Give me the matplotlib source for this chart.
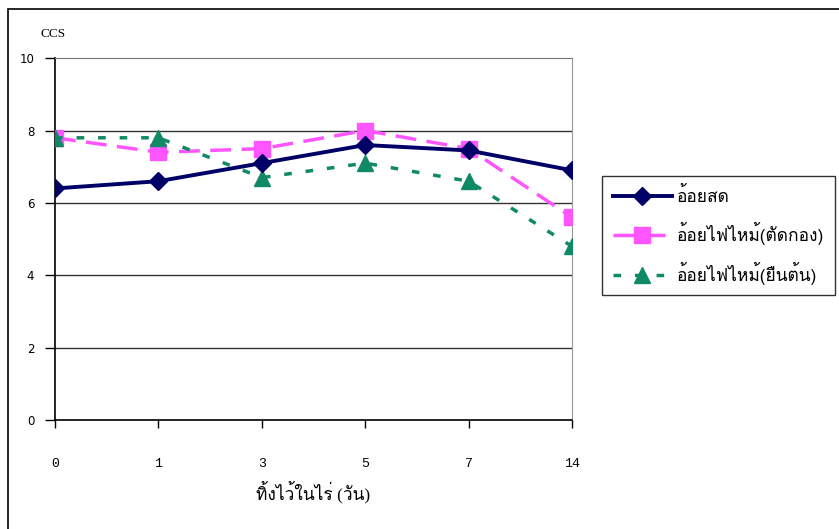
import matplotlib
matplotlib.use("Agg")
import matplotlib.pyplot as plt
from matplotlib import font_manager
from matplotlib.ft2font import FT2Font

days = ["0", "1", "3", "5", "7", "14"]
fresh = [6.4, 6.6, 7.1, 7.6, 7.45, 6.9]
burnt_cut = [7.8, 7.4, 7.5, 8.0, 7.5, 5.6]
burnt_standing = [7.8, 7.8, 6.7, 7.1, 6.6, 4.8]
labels = ["อ้อยสด", "อ้อยไฟไหม้(ตัดกอง)", "อ้อยไฟไหม้(ยืนต้น)"]
y_ticks = [0, 2, 4, 6, 8, 10]


def find_thai_font():
    # look for any installed font that has Thai glyphs
    for f in font_manager.fontManager.ttflist:
        try:
            cmap = FT2Font(f.fname).get_charmap()
        except Exception:
            continue
        if 0x0E2D in cmap and 0x0E49 in cmap:
            return f.name
    return "DejaVu Sans"


thai = find_thai_font()
plt.rcParams["font.family"] = [thai, "DejaVu Sans"]

fig = plt.figure(figsize=(8.39, 5.29), dpi=100)
ax = fig.add_axes([0.0656, 0.206, 0.6162, 0.684])

x = list(range(len(days)))
ax.plot(x, fresh, color="#000066", lw=2.8, marker="D", ms=9, label=labels[0], zorder=4)
ax.plot(x, burnt_cut, color="#FF55FF", lw=2.5, ls=(0, (6, 3)), marker="s", ms=11,
        label=labels[1], zorder=3)
ax.plot(x, burnt_standing, color="#108A66", lw=2.5, ls=(0, (2.2, 4)), marker="^", ms=11,
        label=labels[2], zorder=3)

ax.set_xlim(0, len(days) - 1)
ax.set_ylim(0, 10)
ax.set_xticks(x)
ax.set_xticklabels(days, family="Liberation Mono", fontsize=9.5)
ax.set_yticks(y_ticks)
ax.set_yticklabels([str(v) for v in y_ticks], family="DejaVu Sans", fontsize=8.5)
ax.tick_params(axis="x", direction="out", length=6, width=1, pad=21)
ax.tick_params(axis="y", direction="out", length=7, width=1, pad=8)

for v in y_ticks[1:-1]:
    ax.axhline(v, color="#333333", lw=1, zorder=1)
ax.spines["top"].set_color("#777777")
ax.spines["right"].set_color("#999999")
ax.spines["left"].set_color("black")
ax.spines["bottom"].set_color("black")
ax.spines["left"].set_linewidth(1.2)
ax.spines["bottom"].set_linewidth(1.2)

ax.set_xlabel("ทิ้งไว้ในไร่ (วัน)", fontsize=12.5, labelpad=8, family=["Liberation Serif", thai])
fig.text(0.048, 0.93, "CCS", fontsize=9.5, family="Liberation Serif")

leg = fig.legend(loc="upper left", bbox_to_anchor=(0.718, 0.667), frameon=True,
                 fancybox=False, fontsize=12.5, handlelength=3.4, borderpad=0.6,
                 labelspacing=0.95, handletextpad=0.3, borderaxespad=0)
leg.get_frame().set_edgecolor("black")
leg.get_frame().set_linewidth(1)

# outer border, cut off at the right and bottom edges
fig.patches.append(plt.Rectangle((0.0095, -0.1), 1.1, 1.083, transform=fig.transFigure,
                                 fill=False, edgecolor="black", lw=1.2))

fig.savefig("out.png", dpi=100)
